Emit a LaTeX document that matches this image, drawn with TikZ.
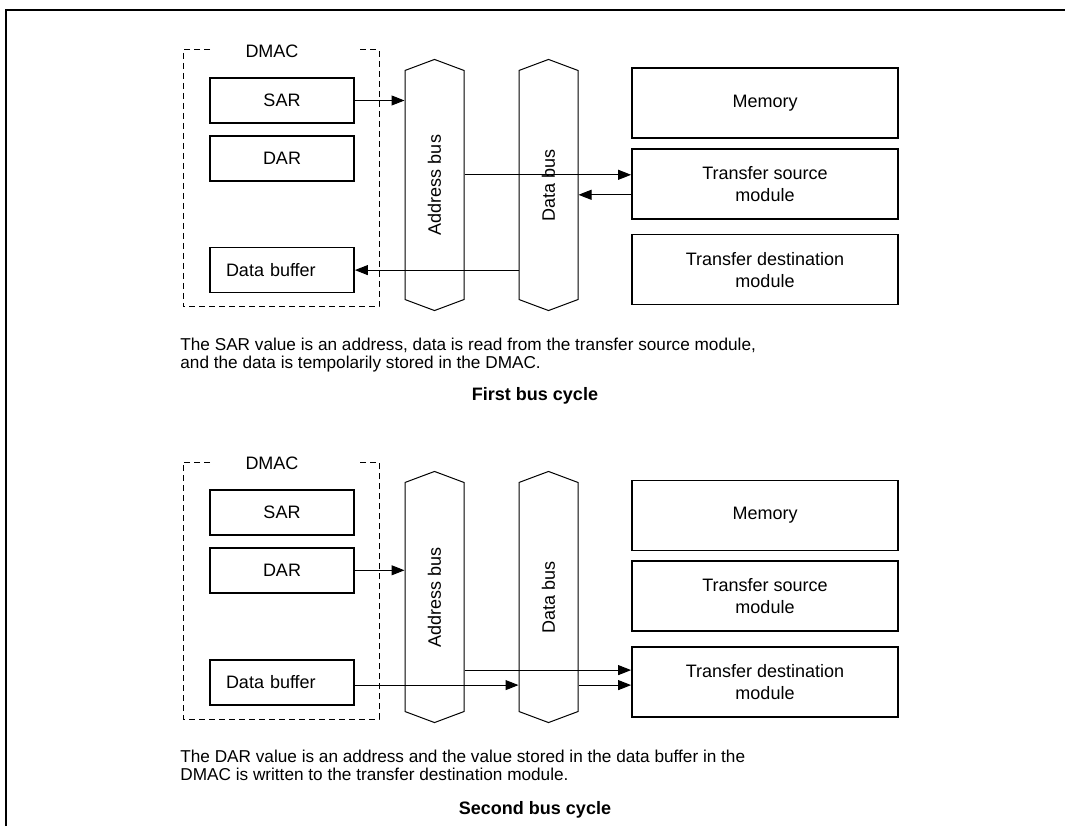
\documentclass[tikz,border=0pt]{standalone}
\usepackage{fontspec}
\setmainfont{Liberation Sans}
\usetikzlibrary{positioning, shapes.symbols, arrows.meta, calc}

\begin{document}
\begin{tikzpicture}[
	x=0.5pt, y=0.5pt,
	font=\fontsize{9}{11}\selectfont,
	regbox/.style={rectangle, draw, line width=0.9pt, minimum width=72pt, minimum height=22.5pt, inner sep=0pt, align=center},
	modbox/.style={rectangle, draw, line width=0.9pt, minimum width=133pt, minimum height=35pt, inner sep=0pt, align=center},
	busbox/.style={signal, signal to=north and south, signal pointer angle=139, draw, line width=0.5pt, minimum width=29.5pt, minimum height=117pt, inner sep=0pt},
	dmacbox/.style={draw, line width=0.5pt, dash pattern=on 3pt off 2pt},
	line/.style={draw, line width=0.5pt, -{Triangle[length=6.5pt, width=5pt]}},
	caption/.style={anchor=base west, align=left, inner sep=0pt, font=\fontsize{8.6}{9}\selectfont},
	cycletitle/.style={anchor=base, inner sep=0pt, font=\bfseries\fontsize{9}{11}\selectfont}
	]
	
	\useasboundingbox (0,0) rectangle (1065,826);
	\draw [line width=1pt] (6,0) -- (6,816) -- (1065,816);
	
	% first bus cycle
	\draw [dmacbox] (210,776) -- (183,776) -- (183,519) -- (379,519) -- (379,776) -- (358,776);
	\node (dmac1) at (272,775) {DMAC};
	\node [regbox] (sar1) at (282,725.5) {SAR};
	\node [regbox, below=5.5pt of sar1] (dar1) {DAR};
	\node [regbox, text width=56pt, align=left, inner xsep=8pt, below=32.5pt of dar1] (buf1) {Data buffer};
	
	\node [busbox] (abus1) at (434.5,641) {\rotatebox{90}{Address bus}};
	\node [busbox, right=27pt of abus1] (dbus1) {\rotatebox{90}{Data bus}};
	
	\node [modbox] (mem1) at (765,723) {Memory};
	\node [modbox, below=4.5pt of mem1] (src1) {Transfer source\\module};
	\node [modbox, below=7pt of src1] (dst1) {Transfer destination\\module};
	
	\draw [line] (sar1.east) -- (sar1.east -| abus1.west);
	\coordinate (ain1) at ($(src1.west)+(0,9)$);
	\draw [line] (ain1 -| abus1.east) -- (ain1);
	\coordinate (dout1) at ($(src1.west)+(0,-11)$);
	\draw [line] (dout1) -- (dout1 -| dbus1.east);
	\draw [line] (dbus1.west |- buf1.east) -- (buf1.east);
	
	\node [caption] (note1) at (180,458) {The SAR value is an address, data is read from the transfer source module,\\and the data is tempolarily stored in the DMAC.};
	\node [cycletitle] (title1) at (535,426) {First bus cycle};
	
	% second bus cycle
	\draw [dmacbox] (210,364) -- (183,364) -- (183,107) -- (379,107) -- (379,364) -- (358,364);
	\node (dmac2) at (272,363) {DMAC};
	\node [regbox] (sar2) at (282,313.5) {SAR};
	\node [regbox, below=5.5pt of sar2] (dar2) {DAR};
	\node [regbox, text width=56pt, align=left, inner xsep=8pt, below=32.5pt of dar2] (buf2) {Data buffer};
	
	\node [busbox] (abus2) at (434.5,229) {\rotatebox{90}{Address bus}};
	\node [busbox, right=27pt of abus2] (dbus2) {\rotatebox{90}{Data bus}};
	
	\node [modbox] (mem2) at (765,310.5) {Memory};
	\node [modbox, below=4.5pt of mem2] (src2) {Transfer source\\module};
	\node [modbox, below=7pt of src2] (dst2) {Transfer destination\\module};
	
	\draw [line] (dar2.east) -- (dar2.east -| abus2.west);
	\coordinate (ain2) at ($(dst2.west)+(0,12)$);
	\draw [line] (ain2 -| abus2.east) -- (ain2);
	\coordinate (din2) at ($(dst2.west)+(0,-3)$);
	\draw [line] (buf2.east |- din2) -- (din2 -| dbus2.west);
	\draw [line] (din2 -| dbus2.east) -- (din2);
	
	\node [caption] (note2) at (180,46) {The DAR value is an address and the value stored in the data buffer in the\\DMAC is written to the transfer destination module.};
	\node [cycletitle] (title2) at (535,12) {Second bus cycle};
\end{tikzpicture}
\end{document}
